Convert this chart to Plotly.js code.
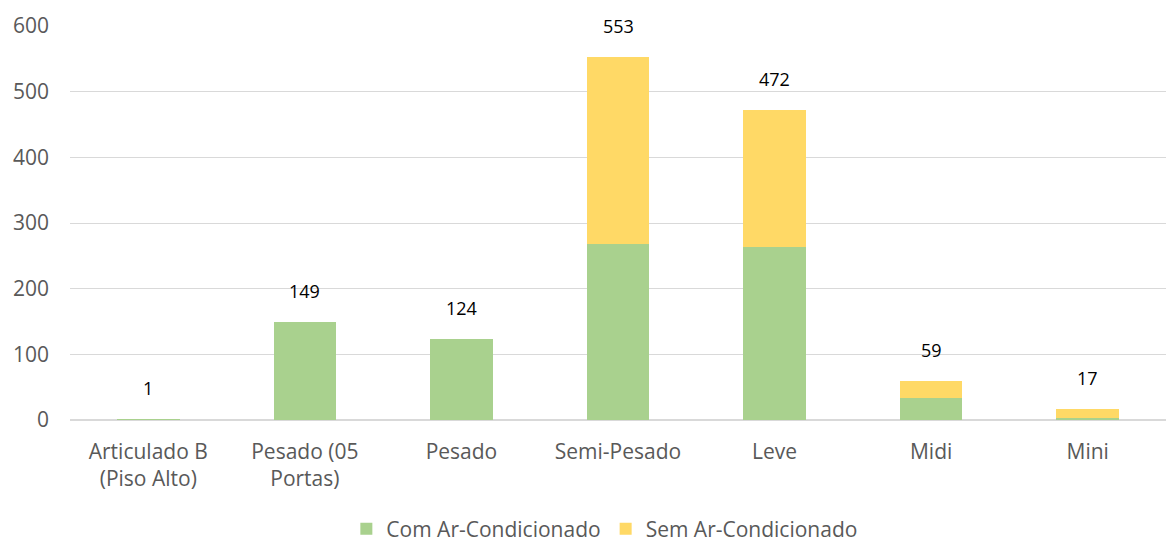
<!DOCTYPE html>
<html>
<head>
<meta charset="utf-8">
<script src="https://cdn.plot.ly/plotly-3.0.1.min.js"></script>
<style>html,body{margin:0;padding:0;background:#fff;}#chart{width:1166px;height:542px;}</style>
</head>
<body>
<div id="chart"></div>
<script>
const categories = ['Articulado B (Piso Alto)', 'Pesado (05 Portas)', 'Pesado', 'Semi-Pesado', 'Leve', 'Midi', 'Mini'];
const tickLabels = ['Articulado B<br>(Piso Alto)', 'Pesado (05<br>Portas)', 'Pesado', 'Semi-Pesado', 'Leve', 'Midi', 'Mini'];
const comAr = [1, 149, 124, 268, 264, 33, 3];
const semAr = [0, 0, 0, 285, 208, 26, 14];
const totals = comAr.map((v, i) => v + semAr[i]);

const FONT = '"Open Sans", "Noto Sans", sans-serif';

const traces = [
  {type: 'bar', name: 'Com Ar-Condicionado', x: categories, y: comAr,
   marker: {color: '#A9D18E'}, hoverinfo: 'skip'},
  {type: 'bar', name: 'Sem Ar-Condicionado', x: categories, y: semAr,
   marker: {color: '#FFD966'}, hoverinfo: 'skip'}
];

const annotations = categories.map((c, i) => ({
  x: c, y: totals[i], xref: 'x', yref: 'y', text: String(totals[i]),
  showarrow: false, yanchor: 'middle', yshift: 31,
  font: {family: FONT, size: 18, color: '#000000'}
}));

const layout = {
  width: 1166, height: 542,
  margin: {l: 70, r: 0, t: 26, b: 122},
  barmode: 'stack',
  bargap: 0.6,
  paper_bgcolor: '#ffffff', plot_bgcolor: '#ffffff',
  font: {family: FONT, size: 21, color: '#595959'},
  xaxis: {
    type: 'category', tickvals: categories, ticktext: tickLabels,
    showgrid: false, showline: false, ticks: '', zeroline: false,
    automargin: false, ticklabelstandoff: 17,
    tickfont: {family: FONT, size: 21, color: '#595959'}
  },
  yaxis: {
    range: [0, 600], dtick: 100, showgrid: true, gridcolor: '#d9d9d9', gridwidth: 1,
    zeroline: true, zerolinecolor: '#d9d9d9', zerolinewidth: 1.5,
    showline: false, ticks: '', ticklabelstandoff: 20, automargin: false,
    tickfont: {family: FONT, size: 21, color: '#595959'}
  },
  legend: {
    orientation: 'h', x: 0.488, xanchor: 'center', xref: 'paper',
    y: 0.024, yanchor: 'middle', yref: 'container',
    font: {family: FONT, size: 21, color: '#595959'}, traceorder: 'normal'
  },
  annotations: annotations,
  showlegend: true
};

Plotly.newPlot('chart', traces, layout, {displayModeBar: false, staticPlot: true});
</script>
</body>
</html>
